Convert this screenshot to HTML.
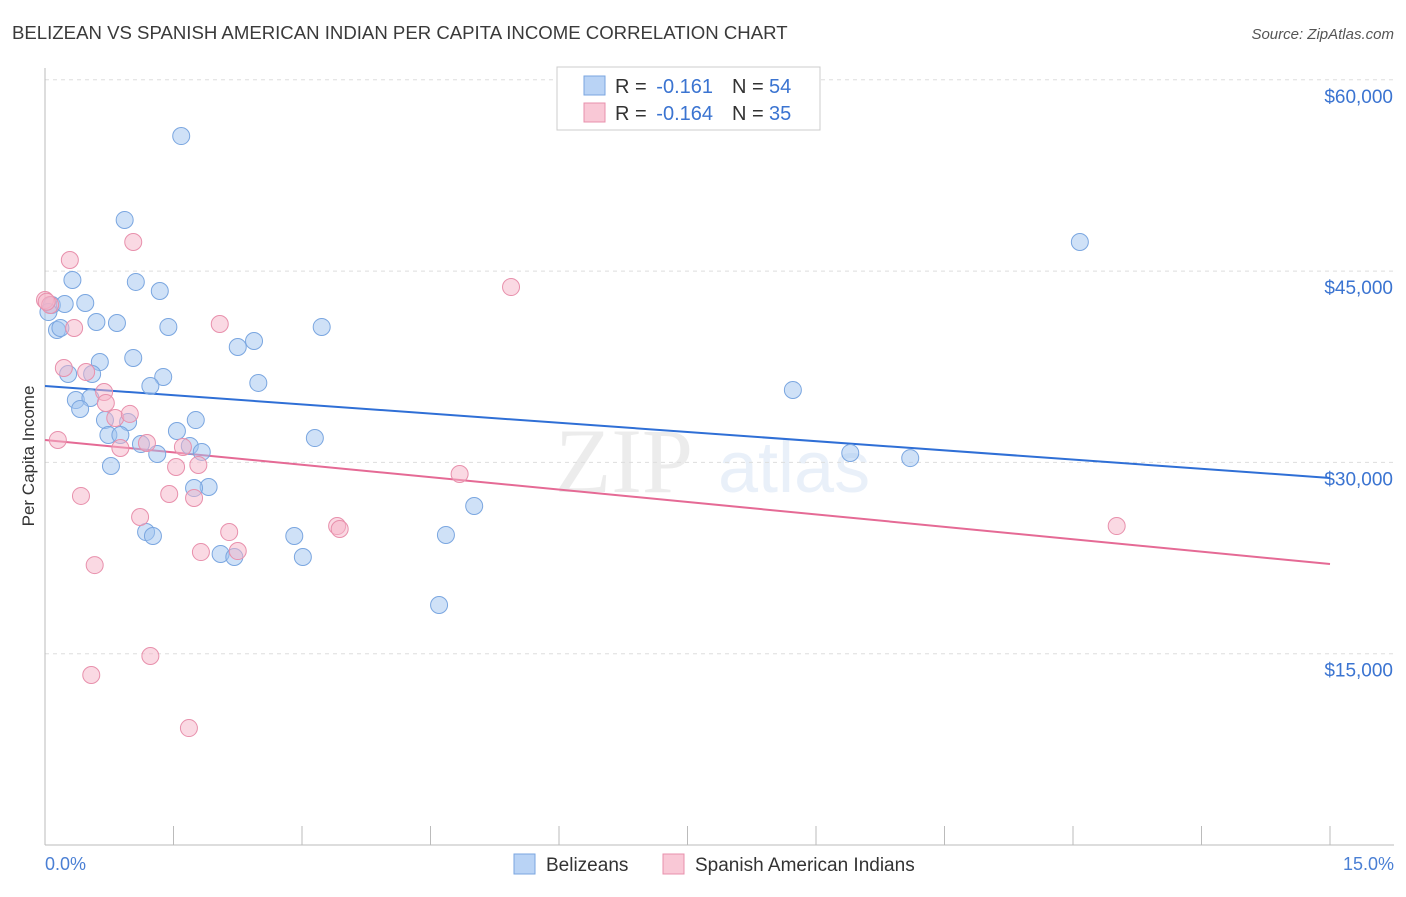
<!DOCTYPE html>
<html><head><meta charset="utf-8"><style>
body{margin:0;background:#fff;font-family:"Liberation Sans",sans-serif}
</style></head><body>
<svg id="chart" width="1406" height="892" xmlns="http://www.w3.org/2000/svg" font-family="Liberation Sans, sans-serif">
<text x="12" y="39" font-size="18.6" fill="#3a3a3a">BELIZEAN VS SPANISH AMERICAN INDIAN PER CAPITA INCOME CORRELATION CHART</text>
<text x="1394" y="39" font-size="15" fill="#555" font-style="italic" text-anchor="end">Source: ZipAtlas.com</text>
<g opacity="0.13">
<text x="555" y="492" font-size="92" font-family="Liberation Serif, serif" fill="#777">ZIP</text>
<text x="718" y="492" font-size="72" fill="#5b8fd6">atlas</text>
</g>
<g id="grid"></g><g id="axes"></g><g id="trends"></g><g id="pts"></g>
<text transform="translate(34,456) rotate(-90)" font-size="17" fill="#333" text-anchor="middle">Per Capita Income</text>
<text x="45" y="870" font-size="18" fill="#4a7fd4">0.0%</text>
<text x="1394" y="870" font-size="18" fill="#4a7fd4" text-anchor="end">15.0%</text>
<g>
<rect x="557" y="67" width="263" height="63" fill="#fff" stroke="#ccc"/>
<rect x="584" y="76" width="21" height="19" fill="#b9d3f5" stroke="#7aa6e0"/>
<rect x="584" y="103" width="21" height="19" fill="#f9c8d6" stroke="#e890ac"/>
<text x="615" y="93" font-size="20" fill="#333">R =</text>
<text x="713" y="93" font-size="20" fill="#3b74d1" text-anchor="end">-0.161</text>
<text x="732" y="93" font-size="20" fill="#333">N =</text>
<text x="769" y="93" font-size="20" fill="#3b74d1">54</text>
<text x="615" y="120" font-size="20" fill="#333">R =</text>
<text x="713" y="120" font-size="20" fill="#3b74d1" text-anchor="end">-0.164</text>
<text x="732" y="120" font-size="20" fill="#333">N =</text>
<text x="769" y="120" font-size="20" fill="#3b74d1">35</text>
</g>
<g>
<rect x="514" y="854" width="21" height="20" fill="#b9d3f5" stroke="#7aa6e0"/>
<text x="546" y="871" font-size="19" fill="#333">Belizeans</text>
<rect x="663" y="854" width="21" height="20" fill="#f9c8d6" stroke="#e890ac"/>
<text x="695" y="871" font-size="19" fill="#333">Spanish American Indians</text>
</g>
</svg>
<script>
const blueX=[1.59,0.93,12.08,0.32,1.06,1.34,0.08,0.23,0.47,0.60,0.84,1.44,3.23,0.04,0.14,0.18,2.44,2.25,0.64,1.03,0.27,0.55,1.38,2.49,1.23,8.73,0.36,0.53,0.41,0.70,0.97,1.76,0.74,0.88,1.54,3.15,1.12,1.69,1.83,1.31,9.40,10.10,0.77,1.91,1.74,5.01,1.18,1.26,2.91,4.68,2.05,2.21,3.01,4.60];
const blueY=[55590,49010,47280,44300,44150,43440,42340,42420,42500,41010,40930,40620,40620,41790,40380,40540,39520,39050,37870,38190,36930,36930,36700,36230,35990,35680,34890,35050,34190,33320,33170,33320,32150,32150,32460,31910,31440,31290,30820,30660,30740,30340,29720,28070,27990,26580,24540,24230,24230,24310,22820,22580,22580,18820];
const pinkX=[0.00,0.06,0.29,1.03,0.34,2.04,5.44,0.22,0.48,0.69,0.71,0.82,0.99,1.19,0.88,1.61,0.15,1.53,1.79,4.84,0.42,1.45,1.74,1.11,2.15,3.41,3.44,12.51,1.82,2.25,0.58,1.23,0.54,1.68,0.02];
const pinkY=[42730,42340,45870,47280,40540,40850,43750,37400,37090,35520,34660,33480,33800,31520,31130,31210,31760,29640,29800,29090,27370,27520,27210,25720,24540,25010,24780,25010,22970,23050,21950,14820,13330,9170,42600];
const blueTrend=[35990,28780];
const pinkTrend=[31760,22030];
const yTicks=[15000,30000,45000,60000];
const yTickLabels=["$15,000","$30,000","$45,000","$60,000"];
const xTicks=[0,1.5,3,4.5,6,7.5,9,10.5,12,13.5,15];
const NS="http://www.w3.org/2000/svg";
const xs=v=>45+v/15*1285;
const ys=v=>845-v/15000*191.3;
function mk(t,a,p){const e=document.createElementNS(NS,t);for(const k in a)e.setAttribute(k,a[k]);p.appendChild(e);return e;}
const grid=document.getElementById('grid'),axes=document.getElementById('axes');
yTicks.forEach((v,i)=>{
 const l=mk('line',{x1:45,x2:1394,y1:ys(v),y2:ys(v),stroke:'#ddd','stroke-dasharray':'4,4'},grid);
 
 
 const t=mk('text',{x:1393,y:ys(v)+23,'font-size':19,fill:'#3b74d1','text-anchor':'end'},grid);
 t.textContent=yTickLabels[i];
 
 
});
const ya=mk('line',{x1:45,x2:45,y1:68,y2:845,stroke:'#bbb'},axes);


const xa=mk('line',{x1:45,x2:1394,y1:845,y2:845,stroke:'#bbb'},axes);


xTicks.forEach(v=>{
 const l=mk('line',{x1:xs(v),x2:xs(v),y1:826,y2:845,stroke:'#bbb'},axes);
 
 
});
const tr=document.getElementById('trends');
const bt=mk('line',{x1:xs(0),x2:xs(15),y1:ys(blueTrend[0]),y2:ys(blueTrend[1]),stroke:'#2f6fd6','stroke-width':2},tr);


const pt=mk('line',{x1:xs(0),x2:xs(15),y1:ys(pinkTrend[0]),y2:ys(pinkTrend[1]),stroke:'#e56a95','stroke-width':2},tr);


const pts=document.getElementById('pts');
blueX.forEach((x,i)=>{
 const c=mk('circle',{cx:xs(x),cy:ys(blueY[i]),r:8.5,fill:'rgba(160,195,240,0.5)',stroke:'#7aa6e0','stroke-width':1},pts);
 
 
});
pinkX.forEach((x,i)=>{
 const c=mk('circle',{cx:xs(x),cy:ys(pinkY[i]),r:8.5,fill:'rgba(245,180,200,0.5)',stroke:'#e890ac','stroke-width':1},pts);
 
 
});
</script>
</body></html>
